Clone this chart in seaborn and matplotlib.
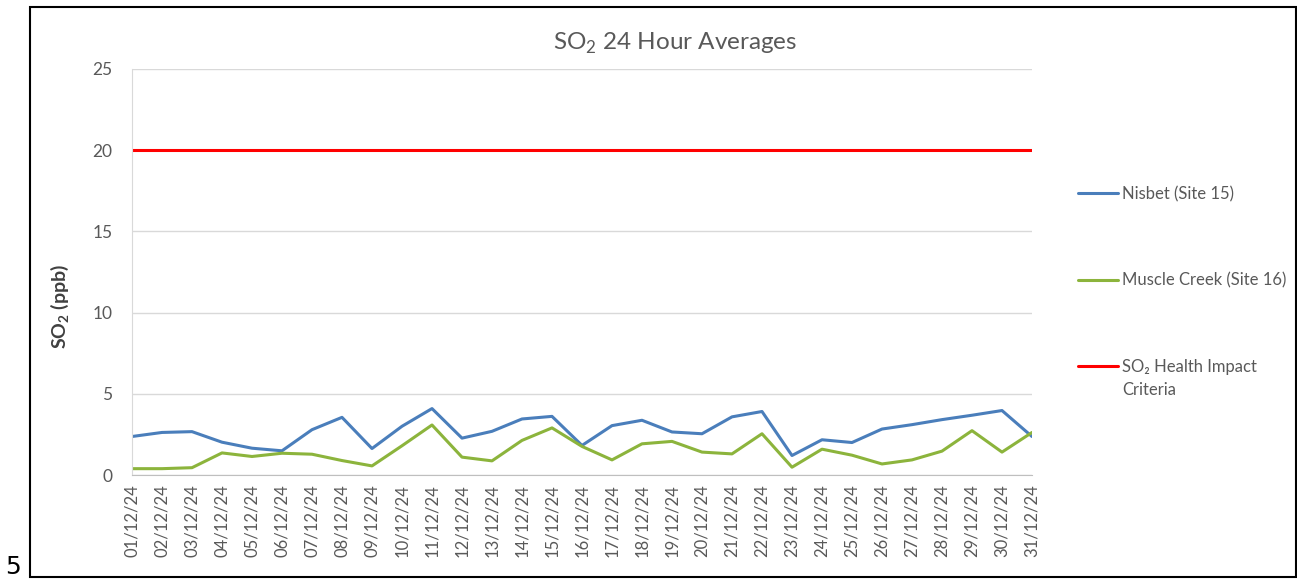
import matplotlib
matplotlib.use("Agg")
import pandas as pd
import matplotlib.pyplot as plt
import seaborn as sns
from matplotlib.patches import Rectangle

dates = [f"{d:02d}/12/24" for d in range(1, 32)]

nisbet = [2.37, 2.62, 2.67, 2.02, 1.65, 1.49, 2.79, 3.55, 1.63, 3.00,
          4.09, 2.27, 2.69, 3.45, 3.61, 1.82, 3.04, 3.37, 2.65, 2.54,
          3.58, 3.91, 1.20, 2.17, 2.00, 2.83, 3.10, 3.41, 3.68, 3.97, 2.37]
muscle_creek = [0.39, 0.39, 0.45, 1.36, 1.14, 1.34, 1.28, 0.89, 0.56, 1.80,
                3.08, 1.10, 0.87, 2.13, 2.90, 1.76, 0.93, 1.92, 2.07, 1.41,
                1.30, 2.54, 0.48, 1.59, 1.22, 0.68, 0.93, 1.47, 2.73, 1.41, 2.62]
criteria = [20] * len(dates)

series_names = ["Nisbet (Site 15)", "Muscle Creek (Site 16)", "SO\u2082 Health Impact"]
colors = ["#4a7ebb", "#8cb43c", "#ff0000"]

df = pd.DataFrame({
    "day": list(range(len(dates))) * 3,
    "value": nisbet + muscle_creek + criteria,
    "series": [series_names[0]] * len(dates) + [series_names[1]] * len(dates) + [series_names[2]] * len(dates),
})

sns.set_style("white")
plt.rcParams["font.family"] = ["Lato", "DejaVu Sans"]
plt.rcParams["mathtext.fontset"] = "custom"
plt.rcParams["mathtext.rm"] = "Lato"
plt.rcParams["mathtext.bf"] = "Lato:bold"

fig = plt.figure(figsize=(12.97, 5.79), dpi=100)
ax = fig.add_axes([132 / 1297, 1 - 475 / 579, 900 / 1297, 406 / 579])

sns.lineplot(data=df, x="day", y="value", hue="series", hue_order=series_names,
             palette=colors, lw=2.2, ax=ax, legend=False)

ax.set_xlim(0, 30)
ax.set_ylim(0, 25)
ax.set_yticks([0, 5, 10, 15, 20, 25])
ax.set_xticks(range(len(dates)))
ax.set_xticklabels(dates, rotation=90)
ax.tick_params(axis="x", length=0, labelsize=12, colors="#595959", pad=7)
ax.tick_params(axis="y", length=0, labelsize=12.5, colors="#595959", pad=14)
ax.grid(axis="y", color="#d9d9d9", lw=1)
for s in ["top", "right"]:
    ax.spines[s].set_visible(False)
ax.spines["left"].set_color("#d9d9d9")
ax.spines["bottom"].set_color("#bfbfbf")
ax.set_xlabel("")
ax.set_ylabel("")

fig.text(60 / 1297, 1 - 306 / 579, r"SO$_\mathbf{2}$ (ppb)", rotation=90, ha="center", va="center",
         fontsize=14, fontweight="bold", color="#404040")
fig.text(675 / 1297, 1 - 43 / 579, r"SO$_2$ 24 Hour Averages", ha="center", va="center",
         fontsize=17.5, color="#595959")

handles = ax.get_lines()[:3]
leg = fig.legend(handles, series_names, loc="upper left", bbox_to_anchor=(1063 / 1297, 1 - 171 / 579),
                 frameon=False, fontsize=12, labelcolor="#595959", handlelength=2.4,
                 handletextpad=0.25, labelspacing=4.22)

# second line of the last legend label, placed under its first line
fig.canvas.draw()
bb = leg.get_texts()[2].get_window_extent()
fig.text(bb.x0 / 1297, (bb.y0 - 23) / 579, "Criteria", fontsize=12, color="#595959", va="bottom")

fig.patches.append(Rectangle((30 / 1297, 2 / 579), 1266 / 1297, 570 / 579, transform=fig.transFigure,
                             fill=False, edgecolor="black", lw=1.5))
fig.text(5 / 1297, 0, "5", fontsize=18, color="black", family="DejaVu Sans", va="bottom")

fig.savefig("out.png", dpi=100)
